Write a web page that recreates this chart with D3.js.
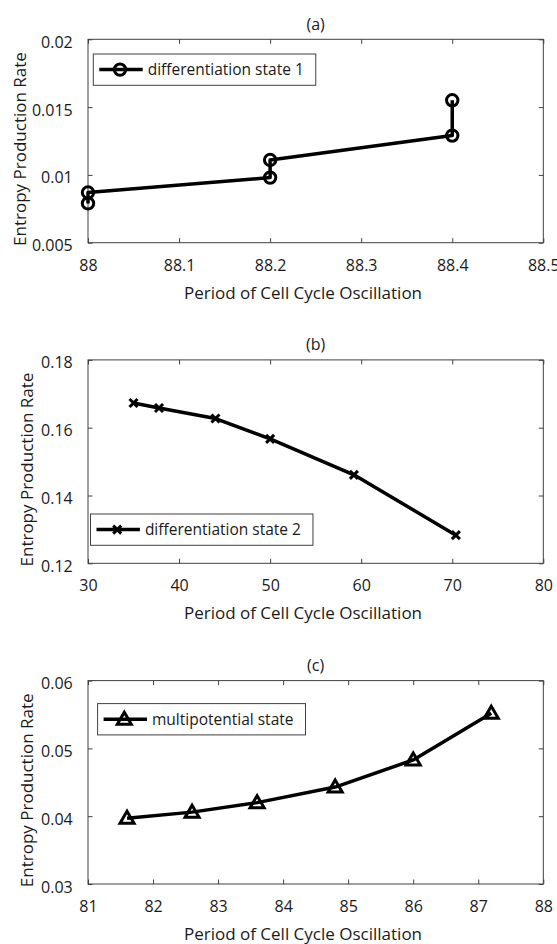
<!DOCTYPE html>
<html>
<head>
<meta charset="utf-8">
<script src="https://cdn.jsdelivr.net/npm/d3@7"></script>
<style>
  body { margin: 0; background: #fff; }
  svg { display: block; }
  text { font-family: "Open Sans", "DejaVu Sans", sans-serif; fill: #1a1a1a; }
</style>
</head>
<body>
<div class="fig"></div>
<script>
// panel (a): differentiation state 1
var periodA = [88, 88, 88.2, 88.2, 88.4, 88.4];
var rateA = [0.0079, 0.0087, 0.0098, 0.0111, 0.0129, 0.0155];
var xTicksA = [88, 88.1, 88.2, 88.3, 88.4, 88.5];
var xLabelsA = ["88", "88.1", "88.2", "88.3", "88.4", "88.5"];
var yTicksA = [0.005, 0.01, 0.015, 0.02];
var yLabelsA = ["0.005", "0.01", "0.015", "0.02"];

// panel (b): differentiation state 2
var periodB = [35, 37.8, 44, 50, 59.2, 70.4];
var rateB = [0.1673, 0.1658, 0.1627, 0.1567, 0.1461, 0.1283];
var xTicksB = [30, 40, 50, 60, 70, 80];
var xLabelsB = ["30", "40", "50", "60", "70", "80"];
var yTicksB = [0.12, 0.14, 0.16, 0.18];
var yLabelsB = ["0.12", "0.14", "0.16", "0.18"];

// panel (c): multipotential state
var periodC = [81.6, 82.6, 83.6, 84.8, 86, 87.2];
var rateC = [0.0397, 0.0406, 0.0420, 0.0443, 0.0483, 0.0552];
var xTicksC = [81, 82, 83, 84, 85, 86, 87, 88];
var xLabelsC = ["81", "82", "83", "84", "85", "86", "87", "88"];
var yTicksC = [0.03, 0.04, 0.05, 0.06];
var yLabelsC = ["0.03", "0.04", "0.05", "0.06"];

var titles = ["(a)", "(b)", "(c)"];
var seriesNames = ["differentiation state 1", "differentiation state 2", "multipotential state"];
var xTitle = "Period of Cell Cycle Oscillation";
var yTitle = "Entropy Production Rate";

var width = 557, height = 944;
var left = 88, right = 543.3, plotH = 203.4;
var bottoms = [242.7, 563.3, 884];
var tickLen = 4.5;
var xTitleX = 303;

var svg = d3.select(".fig").append("svg")
    .attr("width", width)
    .attr("height", height);

// marker shapes
function markerPath(kind) {
  if (kind == "x") return "M-4,-4L4,4M-4,4L4,-4";
  if (kind == "tri") return "M0,-7L7,5L-7,5Z";
  return null;
}

function drawMarker(g, kind, x, y) {
  if (kind == "o") {
    g.append("circle")
        .attr("cx", x).attr("cy", y).attr("r", 5.7)
        .attr("fill", "none").attr("stroke", "#000").attr("stroke-width", 3);
  } else {
    g.append("path")
        .attr("d", markerPath(kind))
        .attr("transform", "translate(" + x + "," + y + ")")
        .attr("fill", "none").attr("stroke", "#000")
        .attr("stroke-width", 3)
        .attr("stroke-linejoin", "miter");
  }
}

function panel(i, xs, ys, xTicks, xLabels, yTicks, yLabels, marker, legendPos) {
  var bottom = bottoms[i], top = bottom - plotH;

  var x = d3.scaleLinear()
      .domain([xTicks[0], xTicks[xTicks.length - 1]])
      .range([left, right]);
  var y = d3.scaleLinear()
      .domain([yTicks[0], yTicks[yTicks.length - 1]])
      .range([bottom, top]);

  var g = svg.append("g");

  // axes with inward ticks on all four sides
  var gx = g.append("g")
      .attr("transform", "translate(0," + bottom + ")")
      .call(d3.axisBottom(x).tickValues(xTicks)
        .tickFormat(function(d, k) { return xLabels[k]; })
        .tickSizeInner(-tickLen).tickSizeOuter(0));
  gx.selectAll("text").attr("y", 28).attr("dy", null)
      .style("font-size", "16px").attr("fill", "#1a1a1a")
      .attr("font-family", null);

  var gy = g.append("g")
      .attr("transform", "translate(" + left + ",0)")
      .call(d3.axisLeft(y).tickValues(yTicks)
        .tickFormat(function(d, k) { return yLabels[k]; })
        .tickSizeInner(-tickLen).tickSizeOuter(0));
  gy.selectAll("text").attr("x", -15.3).attr("y", 8).attr("dy", null)
      .style("font-size", "16px").attr("fill", "#1a1a1a")
      .attr("font-family", null);

  g.append("g")
      .attr("transform", "translate(0," + top + ")")
      .call(d3.axisTop(x).tickValues(xTicks).tickFormat("")
        .tickSizeInner(-tickLen).tickSizeOuter(0));
  g.append("g")
      .attr("transform", "translate(" + right + ",0)")
      .call(d3.axisRight(y).tickValues(yTicks).tickFormat("")
        .tickSizeInner(-tickLen).tickSizeOuter(0));

  g.selectAll(".domain").remove();
  g.selectAll(".tick line").attr("stroke", "#404040");

  g.append("rect")
      .attr("x", left).attr("y", top)
      .attr("width", right - left).attr("height", bottom - top)
      .attr("fill", "none").attr("stroke", "#404040").attr("stroke-width", 1);

  // title and axis labels
  g.append("text")
      .attr("x", (left + right) / 2).attr("y", top - 9.5)
      .attr("text-anchor", "middle")
      .style("font-size", "16px")
      .text(titles[i]);

  g.append("text")
      .attr("x", xTitleX).attr("y", bottom + 56)
      .attr("text-anchor", "middle")
      .style("font-size", "17px")
      .text(xTitle);

  g.append("text")
      .attr("transform", "translate(" + (i == 0 ? 26 : 33.3) + "," + ((top + bottom) / 2 + 8) + ") rotate(-90)")
      .attr("text-anchor", "middle")
      .style("font-size", "17px")
      .text(yTitle);

  // series
  var pts = xs.map(function(d, k) { return [x(d), y(ys[k])]; });
  g.append("path")
      .attr("d", d3.line()(pts))
      .attr("fill", "none")
      .attr("stroke", "#000")
      .attr("stroke-width", 3.5)
      .attr("stroke-linejoin", "round");
  pts.forEach(function(p) { drawMarker(g, marker, p[0], p[1]); });

  // legend
  var lg = g.append("g").attr("transform", "translate(" + legendPos[0] + "," + legendPos[1] + ")");
  var box = lg.append("rect")
      .attr("x", 0).attr("y", 0).attr("height", 31.3)
      .attr("fill", "#fff").attr("stroke", "#404040").attr("stroke-width", 1);
  lg.append("line")
      .attr("x1", 6).attr("x2", 49.4).attr("y1", 15.6).attr("y2", 15.6)
      .attr("stroke", "#000").attr("stroke-width", 3.5);
  drawMarker(lg, marker, 26.7, 15.6);
  var t = lg.append("text")
      .attr("x", 54.4).attr("y", 21.3)
      .style("font-size", "15.5px")
      .text(seriesNames[i]);
  box.attr("width", 54.4 + t.node().getComputedTextLength() + 12);
}

panel(0, periodA, rateA, xTicksA, xLabelsA, yTicksA, yLabelsA, "o", [93.3, 54]);
panel(1, periodB, rateB, xTicksB, xLabelsB, yTicksB, yLabelsB, "x", [90.5, 514]);
panel(2, periodC, rateC, xTicksC, xLabelsC, yTicksC, yLabelsC, "tri", [97.6, 703.6]);
</script>
</body>
</html>
